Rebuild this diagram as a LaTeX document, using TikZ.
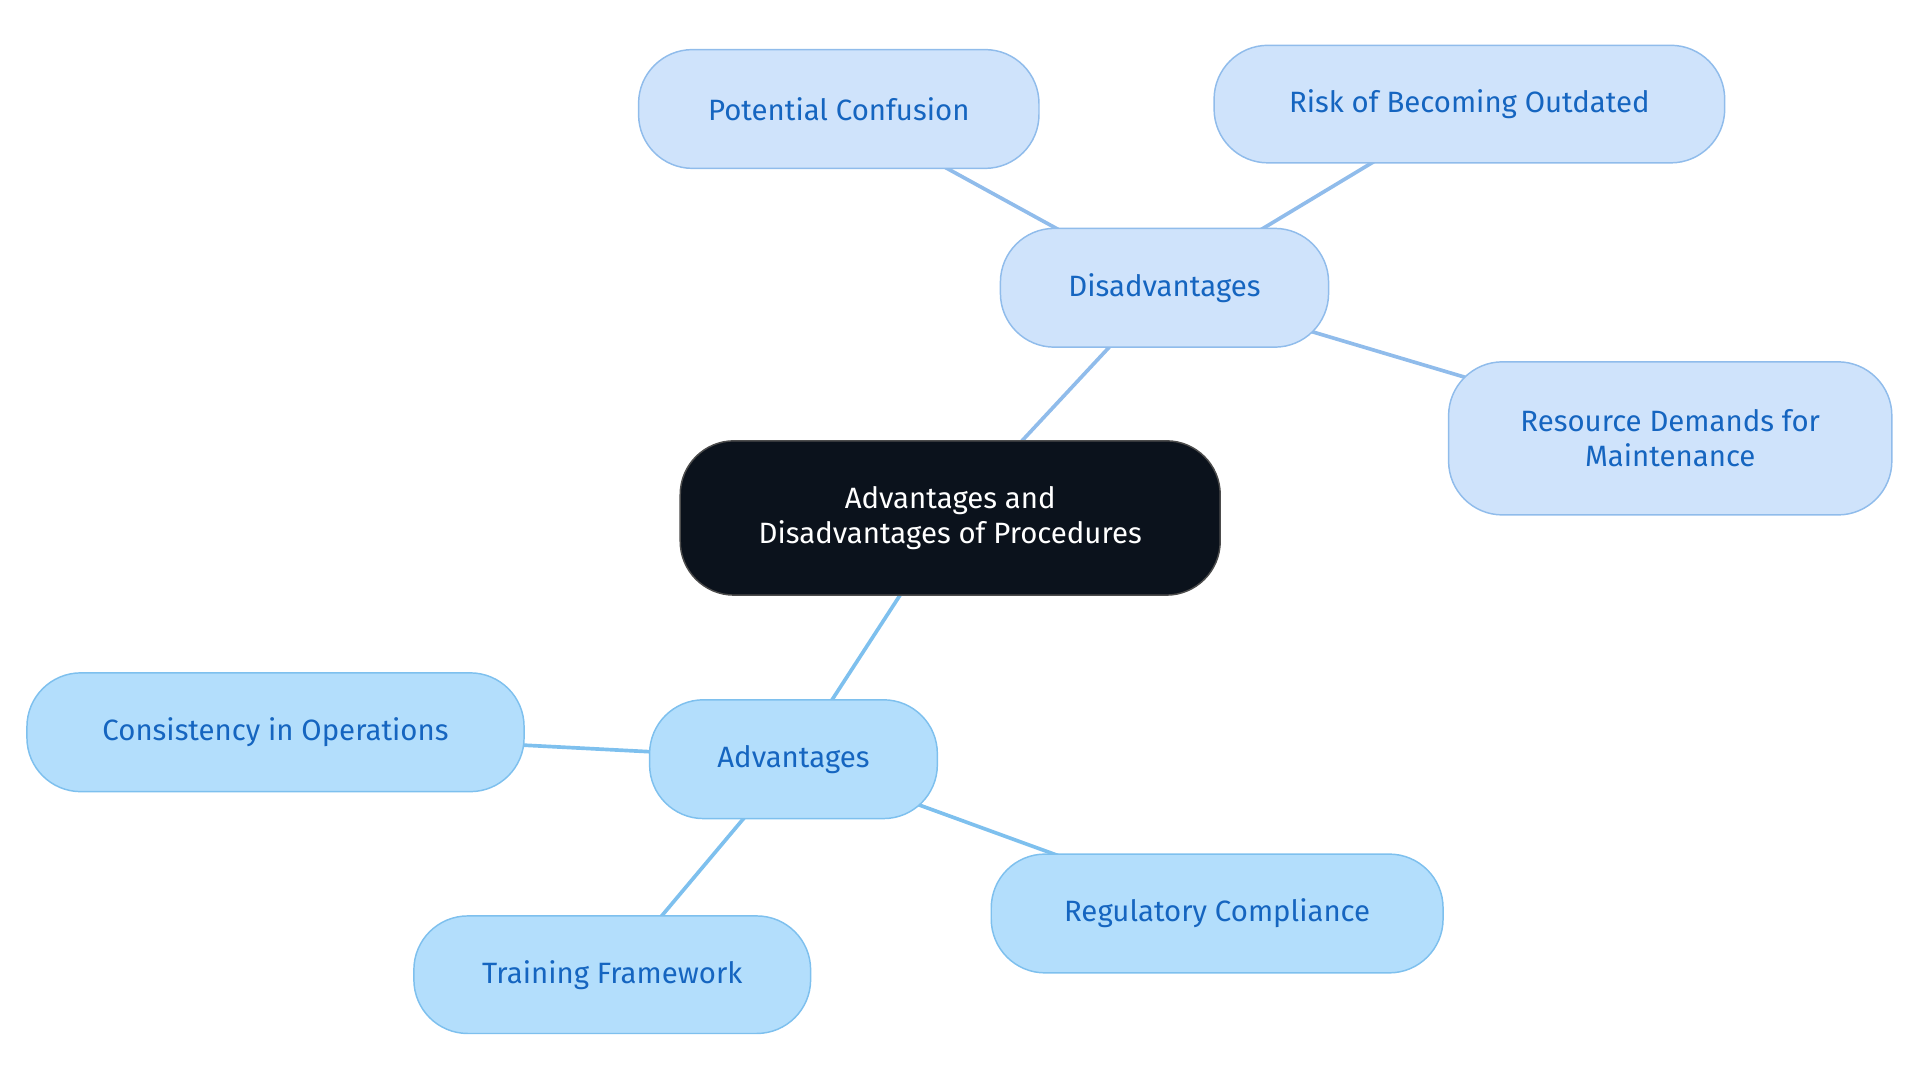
\documentclass[tikz,border=0pt]{standalone}
\usepackage{fontspec}
\setmainfont{Fira Sans}
\usetikzlibrary{backgrounds}
\definecolor{dfill}{HTML}{CFE3FB}
\definecolor{dline}{HTML}{90BCEB}
\definecolor{afill}{HTML}{B3DEFC}
\definecolor{aline}{HTML}{7EC0EE}
\definecolor{txt}{HTML}{1565C0}
\definecolor{cfill}{HTML}{0B121C}
\tikzset{
 base/.style={rounded corners=44pt, line width=1.2pt, font=\fontsize{24}{29}\selectfont, align=center, inner sep=0pt},
 dis/.style={base, fill=dfill, draw=dline, text=txt},
 adv/.style={base, fill=afill, draw=aline, text=txt},
 cen/.style={base, fill=cfill, draw=black!70, text=white},
 dedge/.style={draw=dline, line width=3pt},
 aedge/.style={draw=aline, line width=3pt},
}
\begin{document}
\begin{tikzpicture}[x=1pt,y=-1pt]
\useasboundingbox (0,0) rectangle (1568,884);
\node[cen, minimum width=441pt, minimum height=126pt] (c) at (776,423) {Advantages and\\Disadvantages of Procedures};
\node[dis, minimum width=268pt, minimum height=97pt] (d) at (951,235) {Disadvantages};
\node[dis, minimum width=327pt, minimum height=97pt] (d1) at (685,89) {Potential Confusion};
\node[dis, minimum width=417pt, minimum height=96pt] (d2) at (1200,85) {Risk of Becoming Outdated};
\node[dis, minimum width=362pt, minimum height=125pt] (d3) at (1364,358) {Resource Demands for\\Maintenance};
\node[adv, minimum width=235pt, minimum height=97pt] (a) at (648,620) {Advantages};
\node[adv, minimum width=406pt, minimum height=97pt] (a1) at (225,598) {Consistency in Operations};
\node[adv, minimum width=324pt, minimum height=96pt] (a2) at (500,796) {Training Framework};
\node[adv, minimum width=369pt, minimum height=97pt] (a3) at (994,746) {Regulatory Compliance};
\begin{scope}[on background layer]
\draw[dedge] (c.center) -- (d.center);
\draw[dedge] (d.center) -- (d1.center);
\draw[dedge] (d.center) -- (d2.center);
\draw[dedge] (d.center) -- (d3.center);
\draw[aedge] (c.center) -- (a.center);
\draw[aedge] (a.center) -- (a1.center);
\draw[aedge] (a.center) -- (a2.center);
\draw[aedge] (a.center) -- (a3.center);
\end{scope}
\end{tikzpicture}
\end{document}
